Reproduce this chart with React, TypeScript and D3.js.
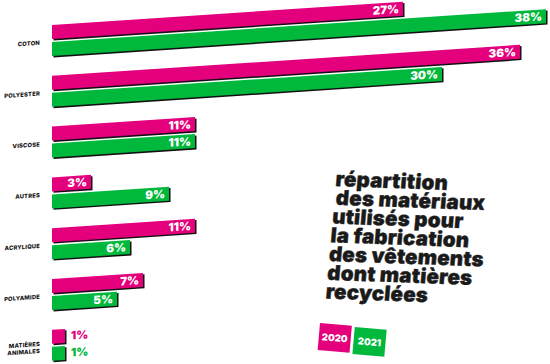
import * as d3 from 'd3';

const categories = ['COTON', 'POLYESTER', 'VISCOSE', 'AUTRES', 'ACRYLIQUE', 'POLYAMIDE', 'MATIÈRES ANIMALES'];
const values2020 = [27, 36, 11, 3, 11, 7, 1];
const values2021 = [38, 30, 11, 9, 6, 5, 1];
const years = ['2020', '2021'];
const titleLines = [
  'répartition',
  'des matériaux',
  'utilisés pour',
  'la fabrication',
  'des vêtements',
  'dont matières',
  'recyclées',
];

const width = 550;
const height = 364;
const pink = '#e4007c';
const green = '#00b83c';
const colors = [pink, green];

export default function App() {
  // Scales
  const x = d3.scaleLinear().domain([0, 38]).range([0, 494]);
  const y = d3.scaleBand().domain(categories).range([25, 25 + 50.8 * categories.length]);
  const barHeight = 14;
  const barGap = 17;

  const series = [values2020, values2021];

  return (
    <svg
      width={width}
      height={height}
      style={{ position: 'absolute', left: 0, top: 0 }}
      fontFamily="Inter, 'DejaVu Sans', sans-serif"
    >
      {/* bars, sheared like the original */}
      <g transform="translate(52,0) skewY(-3.8)">
        {categories.map((cat, i) => {
          const top = y(cat) ?? 0;
          const words = cat.split(' ');
          return (
            <g key={cat}>
              <text
                x={-12}
                y={top + barGap - (words.length - 1) * 3.5 + 2}
                textAnchor="end"
                fontSize={5.8}
                fontWeight={800}
                letterSpacing={0.2}
                fill="#111"
              >
                {words.map((w, k) => (
                  <tspan key={w} x={-12} dy={k === 0 ? 0 : 7}>{w}</tspan>
                ))}
              </text>
              {series.map((vals, s) => {
                const v = vals[i];
                const by = top + s * barGap;
                const w = x(v);
                const inside = v >= 3;
                return (
                  <g key={s}>
                    <rect x={1.5} y={by + 1.5} width={w} height={barHeight} fill="#111" />
                    <rect x={0} y={by} width={w} height={barHeight} fill={colors[s]} />
                    <text
                      x={inside ? w - 4 : w + 6}
                      y={by + barHeight / 2 + 4}
                      textAnchor={inside ? 'end' : 'start'}
                      fontSize={11.5}
                      fontWeight={900}
                      fill={inside ? '#fff' : colors[s]}
                    >
                      {v}%
                    </text>
                  </g>
                );
              })}
            </g>
          );
        })}
      </g>

      {/* title */}
      <g transform="translate(335,186) rotate(2) skewX(-3)">
        {titleLines.map((line, i) => (
          <text
            key={line}
            x={i === 1 ? 2 : 0}
            y={i * 18.8}
            fontSize={20.5}
            fontWeight={900}
            letterSpacing={0.2}
            fill="#1a1a1a"
            stroke="#1a1a1a"
            strokeWidth={0.4}
          >
            {line}
          </text>
        ))}
      </g>

      {/* legend */}
      <g transform="translate(320,323) rotate(5)">
        {years.map((yr, i) => (
          <g key={yr} transform={`translate(${i * 35},${i})`}>
            <rect width={32} height={27} fill={colors[i]} />
            <text
              x={16}
              y={17}
              textAnchor="middle"
              fontSize={9.5}
              fontWeight={900}
              fill="#fff"
            >
              {yr}
            </text>
          </g>
        ))}
      </g>
    </svg>
  );
}
